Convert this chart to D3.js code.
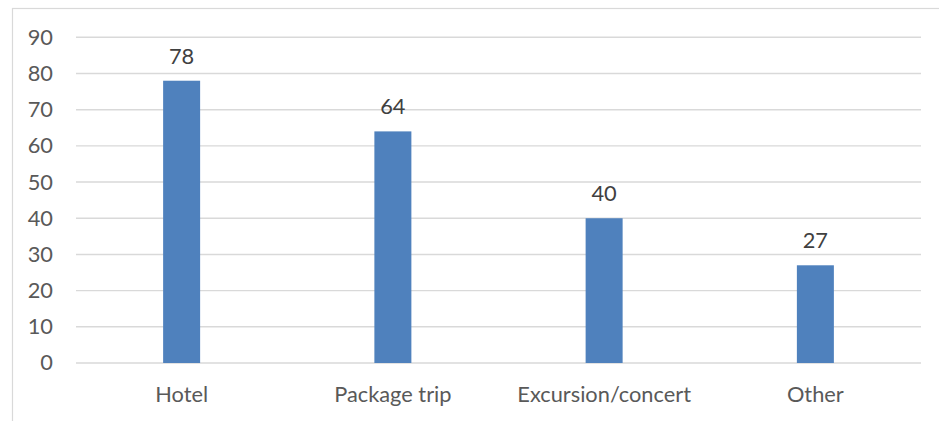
<!DOCTYPE html>
<html>
<head>
<meta charset="utf-8">
<script src="https://cdn.jsdelivr.net/npm/d3@7"></script>
<style>
  html, body { margin: 0; padding: 0; background: #fff; }
  svg { display: block; }
</style>
</head>
<body>
<svg id="chart" width="939" height="421"></svg>
<script>
const categories = ["Hotel", "Package trip", "Excursion/concert", "Other"];
const values = [78, 64, 40, 27];
const yTicks = [0, 10, 20, 30, 40, 50, 60, 70, 80, 90];

const svg = d3.select("#chart");
const W = 939, H = 421;
const font = "Lato, 'Liberation Sans', sans-serif";
const fontSize = 21.8;

// outer chart frame
svg.append("rect")
  .attr("x", 12.5).attr("y", 8.5)
  .attr("width", W).attr("height", H)
  .attr("fill", "#fff")
  .attr("stroke", "#d9d9d9").attr("stroke-width", 1.2);

const plot = { left: 76, right: 921, top: 37.3, bottom: 363 };

const x = d3.scaleBand()
  .domain(categories)
  .range([plot.left, plot.right])
  .paddingInner(0).paddingOuter(0);

const y = d3.scaleLinear()
  .domain([0, 90])
  .range([plot.bottom, plot.top]);

// horizontal gridlines
svg.append("g")
  .selectAll("line")
  .data(yTicks)
  .join("line")
  .attr("x1", plot.left).attr("x2", plot.right)
  .attr("y1", d => y(d)).attr("y2", d => y(d))
  .attr("stroke", "#d9d9d9").attr("stroke-width", 1.4);

// y axis labels
const yAxis = d3.axisLeft(y).tickValues(yTicks).tickSize(0).tickPadding(0);
svg.append("g")
  .attr("transform", `translate(53,0)`)
  .call(yAxis)
  .call(g => g.select(".domain").remove())
  .call(g => g.selectAll("text")
    .attr("fill", "#595959")
    .attr("font-family", font)
    .attr("font-size", fontSize));

// bars
const barW = 37;
svg.append("g")
  .selectAll("rect")
  .data(values)
  .join("rect")
  .attr("x", (d, i) => x(categories[i]) + x.bandwidth() / 2 - barW / 2)
  .attr("y", d => y(d))
  .attr("width", barW)
  .attr("height", d => y(0) - y(d))
  .attr("fill", "#4f81bd");

// value labels
svg.append("g")
  .selectAll("text")
  .data(values)
  .join("text")
  .attr("x", (d, i) => x(categories[i]) + x.bandwidth() / 2)
  .attr("y", d => y(d) - 17)
  .attr("text-anchor", "middle")
  .attr("fill", "#404040")
  .attr("font-family", font)
  .attr("font-size", fontSize)
  .text(d => d);

// category labels
const xAxis = d3.axisBottom(x).tickSize(0).tickPadding(0);
svg.append("g")
  .attr("transform", `translate(0,${plot.bottom})`)
  .call(xAxis)
  .call(g => g.select(".domain").remove())
  .call(g => g.selectAll("text")
    .attr("dy", null)
    .attr("y", 39)
    .attr("fill", "#595959")
    .attr("font-family", font)
    .attr("font-size", fontSize));
</script>
</body>
</html>
